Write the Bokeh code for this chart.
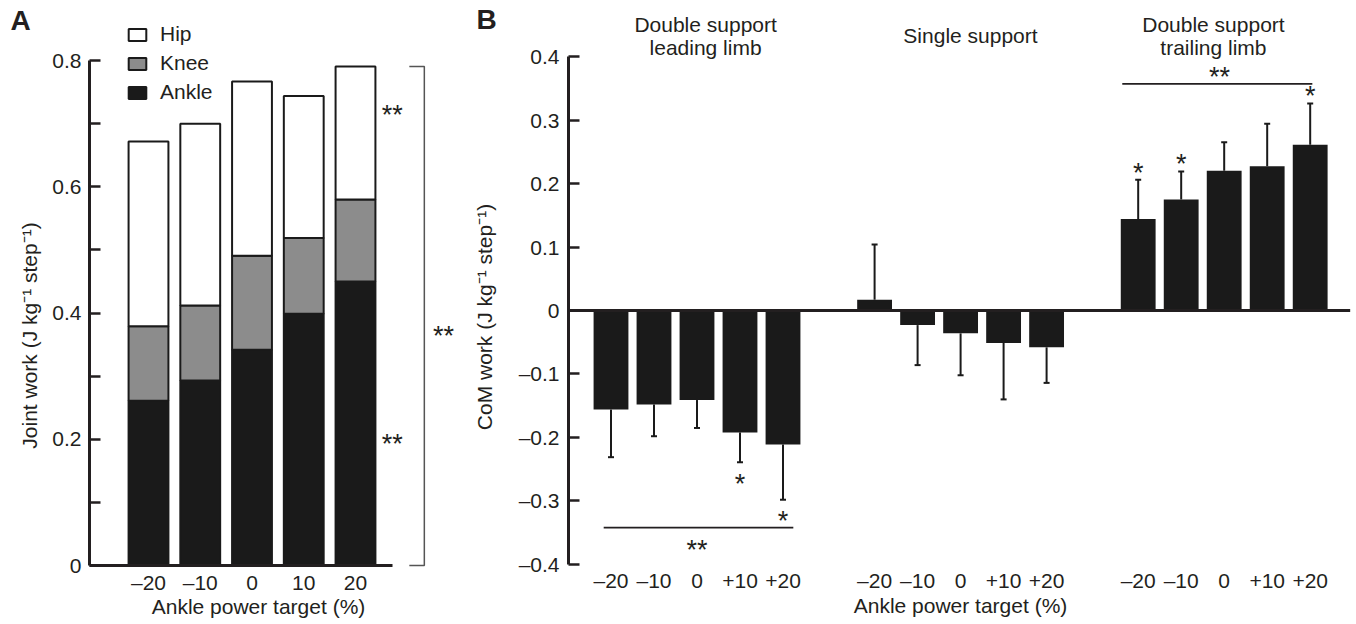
from bokeh.plotting import figure
from bokeh.layouts import row
from bokeh.models import (ColumnDataSource, FixedTicker, CustomJSTickFormatter,
                          Legend, LegendItem, Label, LinearAxis)
from bokeh.core.properties import value
from bokeh.embed import file_html
from bokeh.resources import INLINE

FONT = "Liberation Sans"
INK = "#231f20"
BAR = "#1a1a1a"
KNEE = "#8c8c8c"
FS = "21px"
STAR_FS = "27px"
STAR_DY = 3
H = 624

# ---------------- Panel A data ----------------
a_targets = ["–20", "–10", "0", "10", "20"]
a_ankle = [0.261, 0.293, 0.342, 0.399, 0.450]
a_knee = [0.118, 0.119, 0.149, 0.120, 0.130]
a_hip = [0.293, 0.288, 0.276, 0.225, 0.211]
a_yticks = [0.0, 0.1, 0.2, 0.3, 0.4, 0.5, 0.6, 0.7, 0.8]
a_ylabels = ["0", "", "0.2", "", "0.4", "", "0.6", "", "0.8"]
a_joints = ["Hip", "Knee", "Ankle"]

# ---------------- Panel B data ----------------
b_phases = ["Double support\nleading limb", "Single support", "Double support\ntrailing limb"]
b_targets = ["–20", "–10", "0", "+10", "+20"]
b_lead_mean = [-0.156, -0.148, -0.141, -0.192, -0.211]
b_lead_sd = [0.075, 0.050, 0.044, 0.047, 0.087]
b_single_mean = [0.017, -0.023, -0.036, -0.051, -0.058]
b_single_sd = [0.087, 0.063, 0.066, 0.089, 0.056]
b_trail_mean = [0.144, 0.175, 0.220, 0.227, 0.261]
b_trail_sd = [0.062, 0.044, 0.045, 0.067, 0.065]
b_lead_star = ["", "", "", "*", "*"]
b_single_star = ["", "", "", "", ""]
b_trail_star = ["*", "*", "", "", "*"]
b_yticks = [-0.4, -0.3, -0.2, -0.1, 0.0, 0.1, 0.2, 0.3, 0.4]
b_ylabels = ["–0.4", "–0.3", "–0.2", "–0.1", "0", "0.1", "0.2", "0.3", "0.4"]

LOOKUP = ("const i = tvals.findIndex(t => Math.abs(t - tick) < 1e-6);"
          "return i >= 0 ? tlabs[i] : '';")


def style_axis(ax):
    ax.axis_line_color = INK
    ax.axis_line_width = 3
    ax.major_tick_line_color = INK
    ax.major_tick_line_width = 2.5
    ax.major_tick_in = 11
    ax.major_tick_out = 0
    ax.minor_tick_line_color = None
    ax.major_label_text_font = FONT
    ax.major_label_text_font_size = FS
    ax.major_label_text_color = INK


def label_axis(fig, side, loc, bounds, text, standoff):
    """An axis that only carries the title text, centred where the reference has it."""
    ax = LinearAxis(fixed_location=loc, ticker=FixedTicker(ticks=[]), bounds=bounds,
                    axis_line_color=None, major_tick_line_color=None,
                    minor_tick_line_color=None, major_label_standoff=0,
                    major_tick_in=0, major_tick_out=0,
                    axis_label=text, axis_label_standoff=standoff,
                    axis_label_text_font=FONT, axis_label_text_font_size=FS,
                    axis_label_text_font_style="normal", axis_label_text_color=INK)
    fig.add_layout(ax, side)


def bare_figure(w, xr, yr):
    f = figure(width=w, height=H, x_range=xr, y_range=yr,
               output_backend="svg", toolbar_location=None,
               min_border_left=0, min_border_right=0, min_border_top=0,
               min_border_bottom=0)
    f.grid.visible = False
    f.outline_line_color = None
    return f


# ================= Panel A =================
xa = list(range(1, len(a_targets) + 1))
a_total = [a + k + h for a, k, h in zip(a_ankle, a_knee, a_hip)]
src_a = ColumnDataSource(dict(x=xa, ankle=a_ankle, knee=a_knee, hip=a_hip))

AX0 = -0.14  # y-axis position (data units)
pa = bare_figure(458, (-1.8599, 6.9903), (-0.0935, 0.8954))

rs = pa.vbar_stack(["ankle", "knee", "hip"], x="x", width=0.77, source=src_a,
                   fill_color=[BAR, KNEE, "white"], line_color=BAR, line_width=2)

leg = Legend(items=[LegendItem(label=a_joints[0], renderers=[rs[2]]),
                    LegendItem(label=a_joints[1], renderers=[rs[1]]),
                    LegendItem(label=a_joints[2], renderers=[rs[0]])],
             location=(126, 520), glyph_width=22, glyph_height=15,
             label_text_font=FONT, label_text_font_size=FS, label_text_color=INK,
             label_standoff=12, spacing=5, padding=0, margin=0,
             border_line_color=None, background_fill_alpha=0)
pa.add_layout(leg)

# bracket for total joint work
last = xa[-1]
top = max(a_total)
pa.line([last + 1.04, last + 1.33, last + 1.33, last + 1.04], [top, top, 0, 0],
        line_color="#555555", line_width=1.5)
pa.text(x=[last + 0.71, last + 0.71, last + 1.70], y=[0.718, 0.198, 0.369],
        text=["**", "**", "**"], text_font=value(FONT), text_font_size=STAR_FS,
        text_align="center", text_baseline="middle", text_color=INK, y_offset=STAR_DY)

pa.add_layout(Label(x=-1.667, y=0.839, text="A", text_font=FONT, text_font_size="28px",
                    text_font_style="bold", text_color=INK))

xax = pa.xaxis[0]
style_axis(xax)
xax.fixed_location = 0
xax.ticker = FixedTicker(ticks=xa)
xax.major_label_overrides = dict(zip(xa, a_targets))
xax.bounds = (AX0, last + 0.715)
xax.major_tick_line_color = None
xax.major_label_standoff = 5
label_axis(pa, "below", 0, (2.1255, 4.1255), "Ankle power target (%)", 29)

yax = pa.yaxis[0]
style_axis(yax)
yax.fixed_location = AX0
yax.ticker = FixedTicker(ticks=a_yticks)
yax.formatter = CustomJSTickFormatter(args=dict(tvals=a_yticks, tlabs=a_ylabels), code=LOOKUP)
yax.bounds = (0, 0.8)
yax.major_label_standoff = 8
label_axis(pa, "left", AX0, (0.2645, 0.4645), "Joint work (J kg⁻¹ step⁻¹)", 49)

# ================= Panel B =================
GAP = 6.13
BX0 = -0.988  # y-axis position (data units)
groups = [(b_lead_mean, b_lead_sd, b_lead_star),
          (b_single_mean, b_single_sd, b_single_star),
          (b_trail_mean, b_trail_sd, b_trail_star)]
bx, bm, bend, blab = [], [], [], []
star_x, star_y, star_t = [], [], []
for g, (means, sds, stars) in enumerate(groups):
    for i, (m, s, st) in enumerate(zip(means, sds, stars)):
        x = g * GAP + i
        sign = 1 if m >= 0 else -1
        e = m + sign * s
        bx.append(x); bm.append(m); bend.append(e); blab.append(b_targets[i])
        if st:
            star_x.append(x)
            star_y.append(e + (0.016 if sign > 0 else -0.029))
            star_t.append(st)

src_b = ColumnDataSource(dict(x=bx, mean=bm, end=bend))

pb = bare_figure(898, (-3.5465, 17.337), (-0.4945, 0.4882))

pb.vbar(x="x", top="mean", bottom=0, width=0.81, source=src_b,
        fill_color=BAR, line_color=None)
pb.segment(x0="x", y0="mean", x1="x", y1="end", source=src_b,
           line_color=BAR, line_width=2)
pb.scatter(x="x", y="end", marker="dash", size=6, source=src_b, line_color=BAR, line_width=2)
# zero line
pb.segment(x0=[BX0], y0=[0], x1=[bx[-1] + 0.93], y1=[0], line_color=INK, line_width=3)

# phase titles
centers = [g * GAP + 2 for g in range(3)]
title_shift = [0.2, 0.23, -0.25]
pb.text(x=[c + d for c, d in zip(centers, title_shift)], y=[0.4323] * 3, text=b_phases,
        text_font=value(FONT), text_font_size=FS, text_align="center",
        text_baseline="middle", text_color=INK, text_line_height=1.03)

# significance markers
pb.text(x=star_x, y=star_y, text=star_t, text_font=value(FONT), text_font_size=STAR_FS,
        text_align="center", text_baseline="middle", text_color=INK, y_offset=STAR_DY)
pb.segment(x0=[centers[0] - 2.17, centers[2] - 2.37], y0=[-0.342, 0.357],
           x1=[centers[0] + 2.24, centers[2] + 2.05], y1=[-0.342, 0.357],
           line_color=INK, line_width=1.8)
pb.text(x=[centers[0], centers[2] - 0.11], y=[-0.372, 0.373], text=["**", "**"],
        text_font=value(FONT), text_font_size=STAR_FS, text_align="center",
        text_baseline="middle", text_color=INK, y_offset=STAR_DY)

pb.add_layout(Label(x=-3.128, y=0.4331, text="B", text_font=FONT, text_font_size="28px",
                    text_font_style="bold", text_color=INK))

bxax = pb.xaxis[0]
style_axis(bxax)
bxax.fixed_location = -0.4
bxax.axis_line_color = None
bxax.major_tick_line_color = None
bxax.ticker = FixedTicker(ticks=bx)
bxax.formatter = CustomJSTickFormatter(args=dict(tvals=bx, tlabs=blab), code=LOOKUP)
bxax.major_label_standoff = 5
label_axis(pb, "below", -0.4, (7.128, 9.128), "Ankle power target (%)", 29)

byax = pb.yaxis[0]
style_axis(byax)
byax.fixed_location = BX0
byax.ticker = FixedTicker(ticks=b_yticks)
byax.formatter = CustomJSTickFormatter(args=dict(tvals=b_yticks, tlabs=b_ylabels), code=LOOKUP)
byax.bounds = (-0.4, 0.4)
byax.major_label_standoff = 9
label_axis(pb, "left", BX0, (-0.111, 0.089), "CoM work (J kg⁻¹ step⁻¹)", 73)

layout = row(pa, pb)
open("out.html", "w").write(file_html(layout, INLINE))
